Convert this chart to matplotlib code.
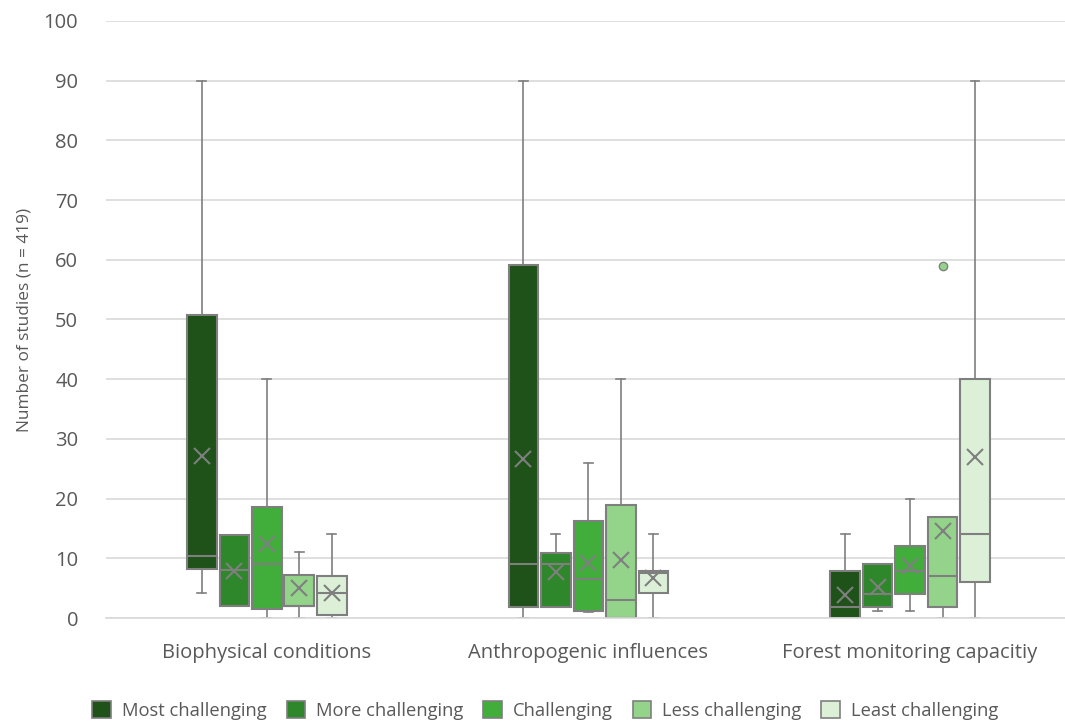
import matplotlib
matplotlib.use("Agg")
import matplotlib.pyplot as plt
from matplotlib.patches import Patch

plt.rcParams['font.family'] = ['Open Sans', 'DejaVu Sans']

groups = ["Biophysical conditions", "Anthropogenic influences", "Forest monitoring capacitiy"]
levels = ["Most challenging", "More challenging", "Challenging", "Less challenging", "Least challenging"]
colors = ["#1e5219", "#2e872b", "#41ae3c", "#93d38a", "#dcf0d8"]

# per group, per level: (whislo, q1, median, q3, whishi, mean)
biophysical = [
    (4.2, 8.2, 10.4, 50.7, 90, 27.1),
    (2.0, 2.0, 8.0, 13.9, 13.9, 7.9),
    (0.0, 1.5, 9.0, 18.6, 40, 12.4),
    (0.0, 2.0, 2.0, 7.2, 11, 5.1),
    (0.0, 0.5, 4.2, 7.0, 14, 4.2),
]
anthropogenic = [
    (0.0, 1.9, 9.0, 59.1, 90, 26.6),
    (1.9, 1.9, 9.0, 10.9, 14, 7.7),
    (1.0, 1.2, 6.5, 16.2, 26, 9.2),
    (0.0, 0.0, 3.0, 18.9, 40, 9.7),
    (0.0, 4.2, 7.5, 7.9, 14, 6.7),
]
forest = [
    (0.0, 0.0, 1.9, 7.9, 14, 3.8),
    (1.2, 1.9, 4.1, 9.0, 9.0, 5.2),
    (1.2, 4.1, 7.9, 12.0, 20, 8.7),
    (0.0, 1.9, 7.0, 17.0, 17.0, 14.6),
    (0.0, 6.0, 14.0, 40.0, 90, 27.0),
]
outliers = {(2, 3): [59]}

edge = "#7f7f7f"
text_color = "#595959"
fig = plt.figure(figsize=(10.65, 7.22), dpi=100)
ax = fig.add_axes([0.0995, 0.144, 0.906, 0.827])

spacing = 0.101
width = 0.092
for gi, data in enumerate([biophysical, anthropogenic, forest]):
    for li, (lo, q1, med, q3, hi, mean) in enumerate(data):
        pos = gi + (li - 2) * spacing
        stats = [dict(whislo=lo, q1=q1, med=med, q3=q3, whishi=hi, mean=mean,
                      fliers=outliers.get((gi, li), []))]
        ax.bxp(stats, positions=[pos], widths=width, patch_artist=True,
               showmeans=True, capwidths=width * 0.3,
               boxprops=dict(facecolor=colors[li], edgecolor=edge, linewidth=1.5),
               medianprops=dict(color=edge, linewidth=1.5),
               whiskerprops=dict(color=edge, linewidth=1.2),
               capprops=dict(color=edge, linewidth=1.2),
               meanprops=dict(marker='x', markeredgecolor=edge, markersize=12, markeredgewidth=1.5),
               flierprops=dict(marker='o', markerfacecolor=colors[li], markeredgecolor=edge,
                               markersize=6, markeredgewidth=1))

ax.set_xlim(-0.5, 2.5)
ax.set_ylim(0, 100)
ax.set_yticks(range(0, 101, 10))
ax.set_xticks(range(3))
ax.set_xticklabels(groups)
ax.grid(axis='y', color='#d9d9d9', linewidth=1.2)
ax.set_axisbelow(True)
for s in ["top", "right", "left"]:
    ax.spines[s].set_visible(False)
ax.spines["bottom"].set_color('#d9d9d9')
ax.spines["bottom"].set_linewidth(1.2)
ax.tick_params(axis='both', length=0, colors=text_color, labelsize=14.5)
ax.tick_params(axis='x', pad=18)
ax.tick_params(axis='y', pad=20)
ax.set_ylabel("Number of studies (n = 419)", color=text_color, fontsize=12.4, labelpad=8)

handles = [Patch(facecolor=c, edgecolor=edge, linewidth=1.2, label=l) for c, l in zip(colors, levels)]
fig.legend(handles=handles, loc='lower center', bbox_to_anchor=(0.512, -0.02), ncol=5, frameon=False,
           fontsize=13.2, labelcolor=text_color, handlelength=1.0, handleheight=1.0,
           handletextpad=0.6, columnspacing=1.1)

fig.savefig("out.png", dpi=100)
